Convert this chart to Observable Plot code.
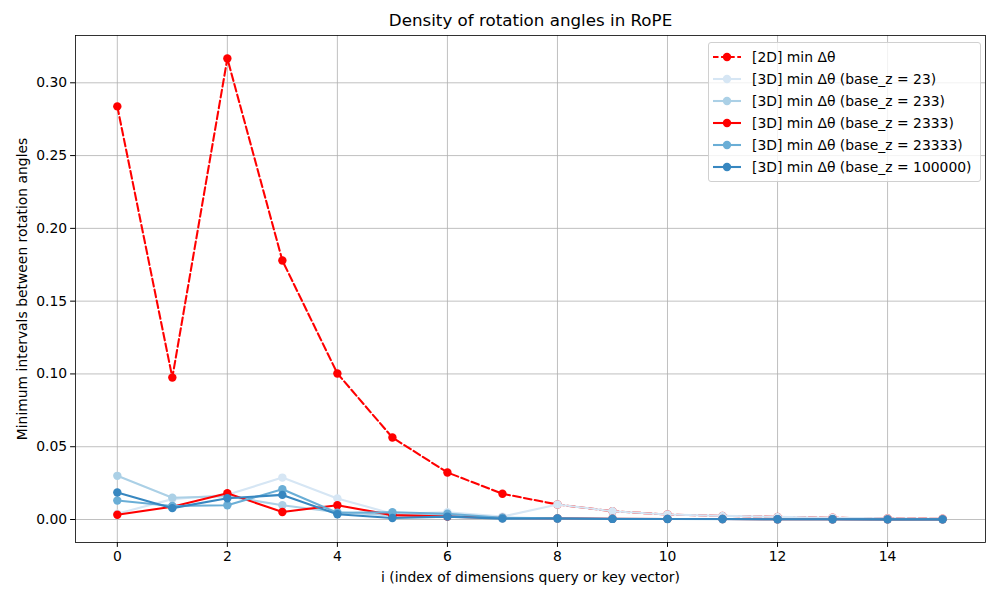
<!DOCTYPE html>
<html>
<head>
<meta charset="utf-8">
<script src="https://cdn.jsdelivr.net/npm/d3@7"></script>
<script src="https://cdn.jsdelivr.net/npm/@observablehq/plot@0.6"></script>
<style>
  html, body { margin: 0; padding: 0; background: #fff; }
  #wrap { position: relative; width: 1000px; height: 600px; font-family: "DejaVu Sans", sans-serif; }
  #legend { position: absolute; left: 708px; top: 42px; background: rgba(255,255,255,0.8); border: 1px solid #d0d0d0; border-radius: 3px; padding: 3px 8px 3px 4px; font-size: 13.9px; color: #000; }
  .row { display: flex; align-items: center; height: 22px; }
  .row svg { margin-right: 11px; }
</style>
</head>
<body>
<div id="wrap"></div>
<script>
const idx = [0,1,2,3,4,5,6,7,8,9,10,11,12,13,14,15];
const seriesNames = [
  "[2D] min Δθ",
  "[3D] min Δθ (base_z = 23)",
  "[3D] min Δθ (base_z = 233)",
  "[3D] min Δθ (base_z = 2333)",
  "[3D] min Δθ (base_z = 23333)",
  "[3D] min Δθ (base_z = 100000)"
];
const colors = ["#ff0000", "#d6e6f4", "#abd0e6", "#ff0000", "#6aaed6", "#3787c0"];
const dashed = [true, false, false, false, false, false];

const d2      = [0.2838, 0.0975, 0.3167, 0.1779, 0.1003, 0.0563, 0.0323, 0.0177, 0.0103, 0.0057, 0.0034, 0.0025, 0.0018, 0.0012, 0.0008, 0.0005];
const z23     = [0.0040, 0.0140, 0.0170, 0.0288, 0.0144, 0.0040, 0.0050, 0.0020, 0.0103, 0.0057, 0.0034, 0.0025, 0.0018, 0.0012, 0.0008, 0.0005];
const z233    = [0.0300, 0.0150, 0.0160, 0.0098, 0.0050, 0.0030, 0.0030, 0.0010, 0.0005, 0.0004, 0.0003, 0.0002, 0.0002, 0.0001, 0.0001, 0.0001];
const z2333   = [0.0033, 0.0088, 0.0180, 0.0052, 0.0098, 0.0030, 0.0020, 0.0010, 0.0008, 0.0005, 0.0004, 0.0003, 0.0002, 0.0002, 0.0001, 0.0001];
const z23333  = [0.0130, 0.0093, 0.0098, 0.0208, 0.0046, 0.0050, 0.0040, 0.0012, 0.0008, 0.0005, 0.0004, 0.0003, 0.0002, 0.0002, 0.0001, 0.0001];
const z100000 = [0.0185, 0.0078, 0.0146, 0.0169, 0.0036, 0.0010, 0.0020, 0.0006, 0.0007, 0.0004, 0.0003, 0.0003, 0.0002, 0.0002, 0.0001, 0.0001];
const allValues = [d2, z23, z233, z2333, z23333, z100000];

const xTicks = [0,2,4,6,8,10,12,14];
const yTicks = [0, 0.05, 0.10, 0.15, 0.20, 0.25, 0.30];

const title = "Density of rotation angles in RoPE";
const xLabel = "i (index of dimensions query or key vector)";
const yLabel = "Minimum intervals between rotation angles";

const seriesMarks = allValues.flatMap((vals, k) => {
  const data = idx.map((i, j) => ({i, v: vals[j]}));
  return [
    Plot.line(data, {x: "i", y: "v", stroke: colors[k], strokeWidth: 2.08, strokeDasharray: dashed[k] ? "7.7,3.3" : null}),
    Plot.dot(data, {x: "i", y: "v", r: 4.2, fill: colors[k], stroke: null})
  ];
});

const chart = Plot.plot({
  width: 1000,
  height: 600,
  marginLeft: 75,
  marginRight: 15,
  marginTop: 35,
  marginBottom: 58,
  style: {fontFamily: "DejaVu Sans, sans-serif", fontSize: "13.9px", color: "#000", background: "#fff"},
  x: {domain: [-0.76, 15.78]},
  y: {domain: [-0.0158, 0.3325]},
  marks: [
    Plot.gridX(xTicks, {stroke: "#b0b0b0", strokeOpacity: 1, strokeWidth: 0.8}),
    Plot.gridY(yTicks, {stroke: "#b0b0b0", strokeOpacity: 1, strokeWidth: 0.8}),
    ...seriesMarks,
    Plot.frame({stroke: "#000", strokeWidth: 0.8}),
    Plot.axisX(xTicks, {tickSize: 4.9, tickPadding: 3.5, label: null, fontSize: 13.9, tickFormat: d => String(d)}),
    Plot.axisY(yTicks, {tickSize: 4.9, tickPadding: 3.5, label: null, fontSize: 13.9, tickFormat: d3.format(".2f")}),
    Plot.text([title], {frameAnchor: "top", dy: -15, text: d => d, fontSize: 16.7, lineAnchor: "middle", textAnchor: "middle"}),
    Plot.text([xLabel], {frameAnchor: "bottom", dy: 35, text: d => d, fontSize: 13.9, lineAnchor: "middle", textAnchor: "middle"}),
    Plot.text([yLabel], {frameAnchor: "left", dx: -53, rotate: -90, text: d => d, fontSize: 13.9, lineAnchor: "middle", textAnchor: "middle"})
  ]
});

const wrap = document.getElementById("wrap");
wrap.appendChild(chart);

const legend = document.createElement("div");
legend.id = "legend";
seriesNames.forEach((name, k) => {
  const row = document.createElement("div");
  row.className = "row";
  const sw = d3.create("svg").attr("width", 28).attr("height", 12);
  sw.append("line").attr("x1", 0).attr("x2", 28).attr("y1", 6).attr("y2", 6)
    .attr("stroke", colors[k]).attr("stroke-width", 2.08)
    .attr("stroke-dasharray", dashed[k] ? "5.5,2.6" : null);
  sw.append("circle").attr("cx", 14).attr("cy", 6).attr("r", 4.2).attr("fill", colors[k]);
  row.appendChild(sw.node());
  const t = document.createElement("span");
  t.textContent = name;
  row.appendChild(t);
  legend.appendChild(row);
});
wrap.appendChild(legend);
</script>
</body>
</html>
